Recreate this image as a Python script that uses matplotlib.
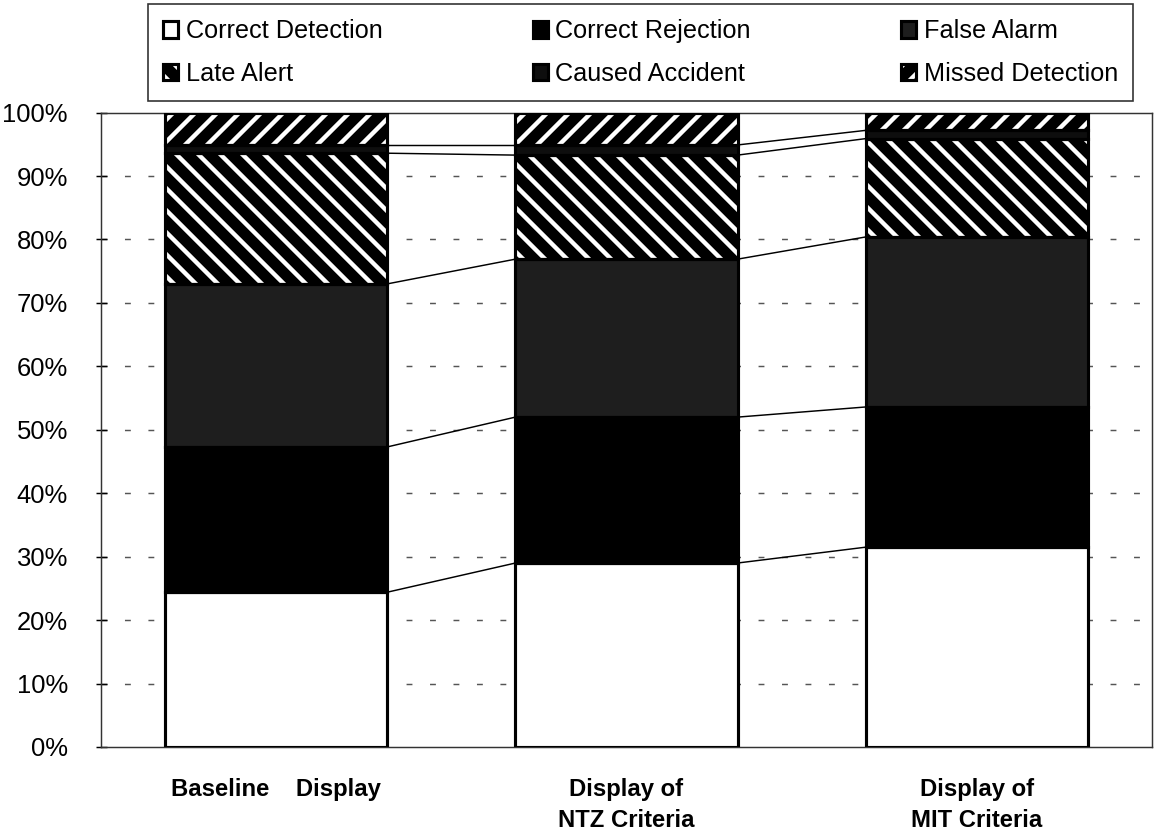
import numpy as np
import matplotlib
matplotlib.use('Agg')
import matplotlib.pyplot as plt
from matplotlib.legend_handler import HandlerTuple

# data (percent of trials)
categories = ['Baseline    Display', 'Display of\nNTZ Criteria', 'Display of\nMIT Criteria']
series_names = ['Correct Detection', 'Correct Rejection', 'False Alarm',
                'Late Alert', 'Caused Accident', 'Missed Detection']
correct_detection = [24.4, 29.0, 31.5]
correct_rejection = [22.9, 23.0, 22.1]
false_alarm = [25.7, 24.9, 26.8]
late_alert = [20.6, 16.4, 15.5]
caused_accident = [1.3, 1.6, 1.3]
missed_detection = [5.1, 5.1, 2.8]
yticks = [0, 10, 20, 30, 40, 50, 60, 70, 80, 90, 100]

series = [correct_detection, correct_rejection, false_alarm,
          late_alert, caused_accident, missed_detection]
# facecolor, hatch
styles = [('white', None), ('black', None), ('#1e1e1e', None),
          ('black', '\\\\'), ('#0e0e0e', None), ('black', '//')]

DPI = 132
plt.rcParams['font.family'] = ['Liberation Sans', 'DejaVu Sans']
plt.rcParams['hatch.color'] = 'white'
plt.rcParams['hatch.linewidth'] = 2.4

fig = plt.figure(figsize=(1154 / DPI, 830 / DPI), dpi=DPI)
ax = fig.add_axes([101 / 1154, 1 - 747 / 830, 1051 / 1154, (747 - 112.6) / 830])

x = np.arange(len(categories))
width = 0.634
bottom = np.zeros(len(categories))
handles = []
tops = []
for vals, (fc, hatch) in zip(series, styles):
    vals = np.array(vals)
    fill = ax.bar(x, vals, width, bottom=bottom, color=fc, hatch=hatch,
                  linewidth=0, zorder=3)
    edge = ax.bar(x, vals, width, bottom=bottom, fill=False,
                  edgecolor='black', linewidth=1.7, zorder=4)
    handles.append((fill[0], edge[0]))
    bottom = bottom + vals
    tops.append(bottom.copy())

# series lines between bars
for t in tops[:-1]:
    for i in range(len(categories) - 1):
        ax.plot([x[i] + width / 2, x[i + 1] - width / 2], [t[i], t[i + 1]],
                color='black', linewidth=0.8, zorder=2)

ax.set_xlim(-0.5, len(categories) - 0.5)
ax.set_ylim(0, 100)
ax.set_yticks(yticks)
ax.set_yticklabels(['%d%%' % v for v in yticks], fontsize=14)
ax.set_xticks(x)
ax.set_xticklabels(categories, fontsize=13, fontweight='bold', linespacing=1.45)
ax.tick_params(axis='x', length=0, pad=17)
ax.tick_params(axis='y', direction='inout', length=6, width=0.8, pad=15)

for yv in yticks[1:-1]:
    ax.axhline(yv, color='#555555', linewidth=0.8, dashes=(4, 12), zorder=1)
for s in ax.spines.values():
    s.set_linewidth(0.8)
    s.set_color('#333333')

order = [0, 3, 1, 4, 2, 5]
leg = fig.legend([handles[i] for i in order], [series_names[i] for i in order],
                 handler_map={tuple: HandlerTuple(ndivide=1)},
                 loc='center', bbox_to_anchor=(148 / 1154, 1 - 100 / 830, 985 / 1154, 95 / 830),
                 mode='expand', ncol=3, fontsize=13.8, frameon=True, fancybox=False,
                 edgecolor='black', handlelength=0.6, handleheight=0.6,
                 handletextpad=0.3, labelspacing=0.72, borderaxespad=0, borderpad=0.6)
leg.get_frame().set_linewidth(0.9)

fig.savefig('out.png', dpi=DPI)
